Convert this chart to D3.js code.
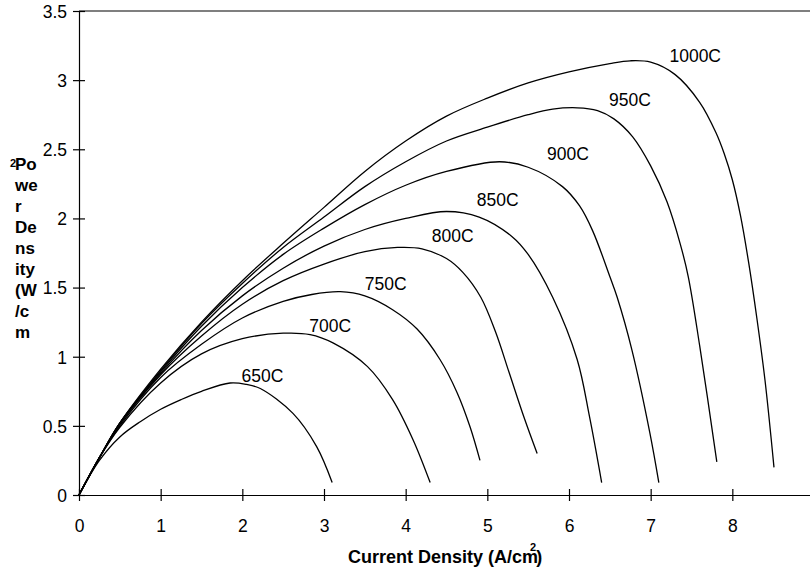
<!DOCTYPE html>
<html>
<head>
<meta charset="utf-8">
<script src="https://cdn.jsdelivr.net/npm/d3@7"></script>
<style>
  html, body { margin: 0; padding: 0; background: #fff; }
  svg { display: block; font-family: "Liberation Sans", Arial, sans-serif; }
</style>
</head>
<body>
<svg id="chart" width="810" height="568"></svg>
<script>
// Power density vs current density for a cell at eight operating temperatures
const temperatures = ["650C", "700C", "750C", "800C", "850C", "900C", "950C", "1000C"];

const curve650 = [[0,0],[0.25,0.25],[0.5,0.42],[0.75,0.53],[1.0,0.62],[1.25,0.69],[1.5,0.75],[1.85,0.81],[2.05,0.80],[2.22,0.77],[2.62,0.59],[2.91,0.35],[3.10,0.09]];
const curve700 = [[0,0],[0.25,0.27],[0.5,0.49],[1.0,0.81],[1.5,1.02],[2.0,1.13],[2.5,1.17],[2.83,1.16],[3.11,1.10],[3.53,0.93],[3.84,0.69],[4.09,0.40],[4.30,0.09]];
const curve750 = [[0,0],[0.25,0.27],[0.5,0.50],[1.0,0.85],[1.5,1.09],[2.0,1.28],[2.5,1.40],[2.85,1.45],[3.2,1.47],[3.5,1.44],[3.84,1.34],[4.14,1.20],[4.42,0.98],[4.63,0.74],[4.79,0.49],[4.91,0.25]];
const curve800 = [[0,0],[0.25,0.27],[0.5,0.51],[1.0,0.87],[1.5,1.15],[2.0,1.38],[2.5,1.55],[3.0,1.67],[3.5,1.76],[3.9,1.79],[4.2,1.78],[4.5,1.71],[4.7,1.61],[4.92,1.43],[5.1,1.18],[5.27,0.88],[5.45,0.56],[5.61,0.30]];
const curve850 = [[0,0],[0.25,0.27],[0.5,0.52],[1.0,0.88],[1.5,1.19],[2.0,1.44],[2.5,1.64],[3.0,1.80],[3.5,1.92],[4.0,2.00],[4.5,2.05],[4.9,2.01],[5.3,1.87],[5.5,1.74],[5.8,1.43],[6.1,0.98],[6.25,0.57],[6.40,0.09]];
const curve900 = [[0,0],[0.25,0.27],[0.5,0.52],[1.0,0.89],[1.5,1.22],[2.0,1.50],[2.5,1.74],[3.0,1.93],[3.5,2.10],[4.0,2.24],[4.5,2.34],[5.15,2.41],[5.5,2.37],[5.92,2.23],[6.13,2.09],[6.29,1.91],[6.50,1.58],[6.59,1.43],[6.77,1.05],[6.99,0.45],[7.10,0.09]];
const curve950 = [[0,0],[0.25,0.27],[0.5,0.52],[1.0,0.90],[1.5,1.24],[2.0,1.53],[2.5,1.79],[3.0,2.01],[3.5,2.23],[4.0,2.41],[4.5,2.56],[5.0,2.66],[5.5,2.75],[5.8,2.79],[6.1,2.80],[6.35,2.78],[6.55,2.72],[6.78,2.59],[7.0,2.38],[7.2,2.12],[7.36,1.82],[7.46,1.58],[7.6,1.08],[7.81,0.24]];
const curve1000 = [[0,0],[0.25,0.27],[0.5,0.52],[1.0,0.91],[1.5,1.25],[2.0,1.55],[2.5,1.82],[3.0,2.08],[3.5,2.34],[4.0,2.56],[4.5,2.74],[5.0,2.87],[5.5,2.98],[6.0,3.06],[6.5,3.12],[6.75,3.14],[7.0,3.13],[7.3,3.04],[7.6,2.84],[7.8,2.62],[7.9,2.47],[8.0,2.28],[8.1,2.02],[8.2,1.68],[8.3,1.28],[8.4,0.83],[8.51,0.20]];

const seriesValues = [curve650, curve700, curve750, curve800, curve850, curve900, curve950, curve1000];

// Label anchor (left edge, baseline) for each curve name, in data units
const labelX = [1.99, 2.82, 3.50, 4.32, 4.87, 5.73, 6.49, 7.23];
const labelY = [0.82, 1.18, 1.48, 1.83, 2.09, 2.42, 2.81, 3.13];

const xTickValues = [0, 1, 2, 3, 4, 5, 6, 7, 8];
const yTickValues = [0, 0.5, 1, 1.5, 2, 2.5, 3, 3.5];
const xTickLabels = ["0", "1", "2", "3", "4", "5", "6", "7", "8"];
const yTickLabels = ["0", "0.5", "1", "1.5", "2", "2.5", "3", "3.5"];

const svg = d3.select("#chart");
const plot = { left: 79, right: 814, top: 11, bottom: 495 };

const x = d3.scaleLinear().domain([0, 9]).range([plot.left, plot.right]);
const y = d3.scaleLinear().domain([0, 3.5]).range([plot.bottom, plot.top]);

// Frame top edge
svg.append("line")
  .attr("x1", plot.left).attr("x2", plot.right)
  .attr("y1", plot.top).attr("y2", plot.top)
  .attr("stroke", "#000").attr("stroke-width", 1.2);

// X axis: ticks cross the axis line
const xAxis = svg.append("g").attr("transform", `translate(0,${plot.bottom})`)
  .call(d3.axisBottom(x).tickValues(xTickValues)
    .tickFormat((d, i) => xTickLabels[i]).tickSize(0).tickPadding(0));
xAxis.select(".domain").attr("stroke", "#000").attr("stroke-width", 1.2);
xAxis.selectAll(".tick line").attr("y1", -6).attr("y2", 6).attr("stroke", "#000").attr("stroke-width", 1.2);
xAxis.selectAll(".tick text").attr("y", 37).attr("dy", null)
  .attr("font-size", "17.5px").attr("fill", "#000")
  .attr("font-family", "'Liberation Sans', Arial, sans-serif");

// Y axis
const yAxis = svg.append("g").attr("transform", `translate(${plot.left},0)`)
  .call(d3.axisLeft(y).tickValues(yTickValues)
    .tickFormat((d, i) => yTickLabels[i]).tickSize(0).tickPadding(0));
yAxis.select(".domain").attr("stroke", "#000").attr("stroke-width", 1.2);
yAxis.selectAll(".tick line").attr("x1", -6).attr("x2", 6).attr("stroke", "#000").attr("stroke-width", 1.2);
yAxis.selectAll(".tick text").attr("x", -12).attr("dy", "0.36em")
  .attr("font-size", "17.5px").attr("fill", "#000")
  .attr("font-family", "'Liberation Sans', Arial, sans-serif");

// Curves, smoothed through the measured points
const line = d3.line().x(d => x(d[0])).y(d => y(d[1])).curve(d3.curveCatmullRom.alpha(0.5));
svg.append("g").selectAll("path").data(seriesValues).join("path")
  .attr("d", line)
  .attr("fill", "none").attr("stroke", "#000").attr("stroke-width", 1.3);

// Curve names
svg.append("g").selectAll("text").data(temperatures).join("text")
  .attr("x", (d, i) => x(labelX[i]))
  .attr("y", (d, i) => y(labelY[i]))
  .attr("font-size", "17.5px").attr("fill", "#000")
  .text(d => d);

// X axis title with superscript
const xTitle = svg.append("text")
  .attr("x", 348).attr("y", 563)
  .attr("font-size", "18px").attr("font-weight", "bold").attr("fill", "#000");
xTitle.append("tspan").text("Current Density (A/cm");
xTitle.append("tspan").attr("font-size", "11px").attr("dx", -8).attr("dy", -12).text("2");
xTitle.append("tspan").attr("dy", 12).text(")");

// Y axis title, wrapped into a narrow column
const yTitleLines = ["Po", "we", "r", "De", "ns", "ity", "(W", "/c", "m"];
svg.append("g").selectAll("text").data(yTitleLines).join("text")
  .attr("x", 15).attr("y", (d, i) => 170 + i * 21)
  .attr("font-size", "17px").attr("font-weight", "bold").attr("fill", "#000")
  .text(d => d);
svg.append("text")
  .attr("x", 10).attr("y", 167)
  .attr("font-size", "11px").attr("font-weight", "bold").attr("fill", "#000")
  .text("2");
</script>
</body>
</html>
